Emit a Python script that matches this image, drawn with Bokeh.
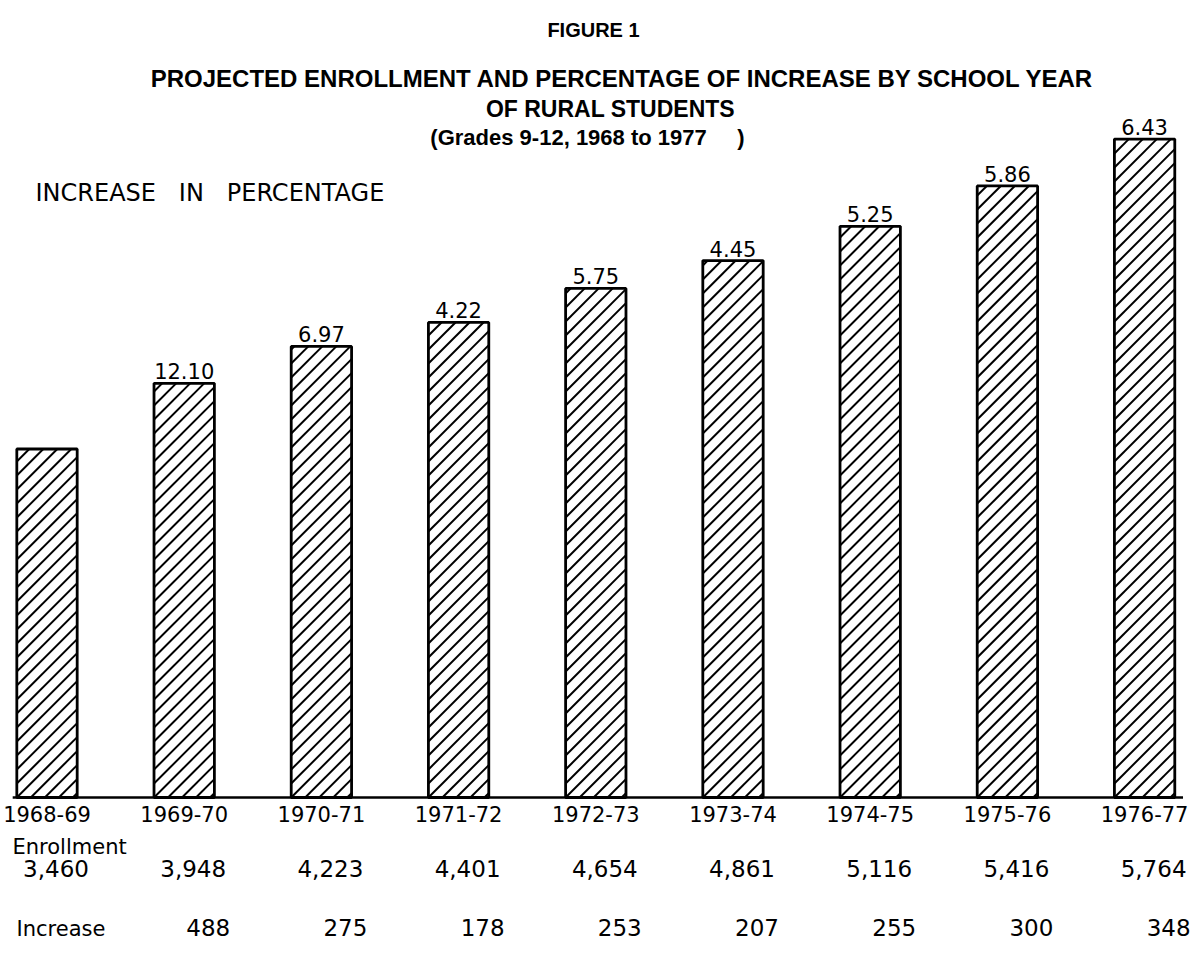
import math
from bokeh.plotting import figure
from bokeh.models import Range1d
from bokeh.core.properties import value
from bokeh.embed import file_html
from bokeh.resources import INLINE

# ---------------- data ----------------
years = ["1968-69", "1969-70", "1970-71", "1971-72", "1972-73",
         "1973-74", "1974-75", "1975-76", "1976-77"]
enrollment = [3460, 3948, 4223, 4401, 4654, 4861, 5116, 5416, 5764]
increase = [None, 488, 275, 178, 253, 207, 255, 300, 348]
pct_increase = [None, "12.10", "6.97", "4.22", "5.75", "4.45", "5.25", "5.86", "6.43"]

NB = "\u00a0"
title_lines = ["PROJECTED ENROLLMENT AND PERCENTAGE OF INCREASE BY SCHOOL YEAR",
               "OF RURAL STUDENTS",
               "(Grades 9-12, 1968 to 1977" + NB * 5 + ")"]
figure_label = "FIGURE 1"
pct_heading = ("INCREASE" + NB * 3 + "IN" + NB * 3 + "PERCENTAGE")

# ---------------- layout ----------------
W, H = 1192, 955
BASE = 869            # value at which the original drawing's bars start
PX_PER_UNIT = 0.1345  # vertical scale of the original drawing (px per student)
BASE_Y = 797          # canvas y of the baseline
SPACING = 137.2       # px between bar centres
FIRST_X = 46.5        # px of the first bar centre
BAR_W = 0.44          # bar width in category units
HATCH = 14            # px between hatch lines (horizontal)

idx = list(range(len(years)))
x_start = -FIRST_X / SPACING
x_end = (W - FIRST_X) / SPACING
y_end = BASE + BASE_Y / PX_PER_UNIT
y_start = BASE - (H - BASE_Y) / PX_PER_UNIT

p = figure(width=W, height=H, x_range=Range1d(x_start, x_end),
           y_range=Range1d(y_start, y_end), output_backend="svg",
           toolbar_location=None, min_border=0,
           x_axis_location=None, y_axis_location=None)
p.grid.visible = False
p.outline_line_color = None
p.background_fill_color = "white"
p.border_fill_color = "white"
p.extra_y_ranges = {"px": Range1d(start=H, end=0)}
p.extra_x_ranges = {"pxx": Range1d(start=0, end=W)}

NUM_FONT = value("DejaVu Sans")
TITLE_FONT = value("Liberation Sans")

# bar fill
p.vbar(x=idx, top=enrollment, bottom=BASE, width=BAR_W,
       fill_color="white", line_color=None)


# 45-degree hatching inside each bar, derived from the bar geometry
def hatch_segments(cx, bottom, top):
    w_px = BAR_W * SPACING
    h_px = (top - bottom) * PX_PER_UNIT
    xs, ys = [], []
    k = -math.floor(h_px / HATCH) * HATCH
    while k < w_px:
        x0 = max(0.0, k)
        x1 = min(w_px, h_px + k)
        if x1 > x0:
            xs.append([cx - BAR_W / 2 + x0 / SPACING, cx - BAR_W / 2 + x1 / SPACING])
            ys.append([bottom + (x0 - k) / PX_PER_UNIT, bottom + (x1 - k) / PX_PER_UNIT])
        k += HATCH
    return xs, ys


hx, hy = [], []
for i in idx:
    a, b = hatch_segments(i, BASE, enrollment[i])
    hx += a
    hy += b
p.multi_line(xs=hx, ys=hy, line_color="black", line_width=2.0)

# bar outlines
p.vbar(x=idx, top=enrollment, bottom=BASE, width=BAR_W,
       fill_color=None, line_color="black", line_width=2.8)

# baseline
p.segment(x0=[idx[0] - 0.25], x1=[idx[-1] + 0.28], y0=[BASE], y1=[BASE],
          line_color="black", line_width=2.5)

# percentage labels above bars
pi = [i for i in idx if pct_increase[i] is not None]
p.text(x=pi, y=[enrollment[i] for i in pi], text=[pct_increase[i] for i in pi],
       text_align="center", text_baseline="bottom", y_offset=-4,
       text_font=NUM_FONT, text_font_size="21px", text_color="black")

# year labels
p.text(x=idx, y=[813] * len(idx), y_range_name="px", text=years,
       text_align="center", text_baseline="middle",
       text_font=NUM_FONT, text_font_size="21px", text_color="black")

# enrollment row
p.text(x=[12], y=[846], x_range_name="pxx", y_range_name="px", text=["Enrollment"],
       text_align="left", text_baseline="middle",
       text_font=NUM_FONT, text_font_size="21px", text_color="black")
p.text(x=idx, y=[868] * len(idx), y_range_name="px",
       text=[f"{v:,}" for v in enrollment], x_offset=9,
       text_align="center", text_baseline="middle",
       text_font=NUM_FONT, text_font_size="23px", text_color="black")

# increase row
p.text(x=[16], y=[928], x_range_name="pxx", y_range_name="px", text=["Increase"],
       text_align="left", text_baseline="middle",
       text_font=NUM_FONT, text_font_size="21px", text_color="black")
ii = [i for i in idx if increase[i] is not None]
p.text(x=ii, y=[927] * len(ii), y_range_name="px",
       text=[str(increase[i]) for i in ii], x_offset=24,
       text_align="center", text_baseline="middle",
       text_font=NUM_FONT, text_font_size="23px", text_color="black")

# titles
p.text(x=[593], y=[29], x_range_name="pxx", y_range_name="px", text=[figure_label],
       text_align="center", text_baseline="middle", text_font=TITLE_FONT,
       text_font_style="bold", text_font_size="20px", text_color="black")
p.text(x=[622], y=[78], x_range_name="pxx", y_range_name="px", text=[title_lines[0]],
       text_align="center", text_baseline="middle", text_font=TITLE_FONT,
       text_font_style="bold", text_font_size="24px", text_color="black")
p.text(x=[610], y=[108], x_range_name="pxx", y_range_name="px", text=[title_lines[1]],
       text_align="center", text_baseline="middle", text_font=TITLE_FONT,
       text_font_style="bold", text_font_size="23px", text_color="black")
p.text(x=[587], y=[137], x_range_name="pxx", y_range_name="px", text=[title_lines[2]],
       text_align="center", text_baseline="middle", text_font=TITLE_FONT,
       text_font_style="bold", text_font_size="22px", text_color="black")
p.text(x=[35], y=[192], x_range_name="pxx", y_range_name="px", text=[pct_heading],
       text_align="left", text_baseline="middle",
       text_font=NUM_FONT, text_font_size="24px", text_color="black")

open("out.html", "w").write(file_html(p, INLINE))
